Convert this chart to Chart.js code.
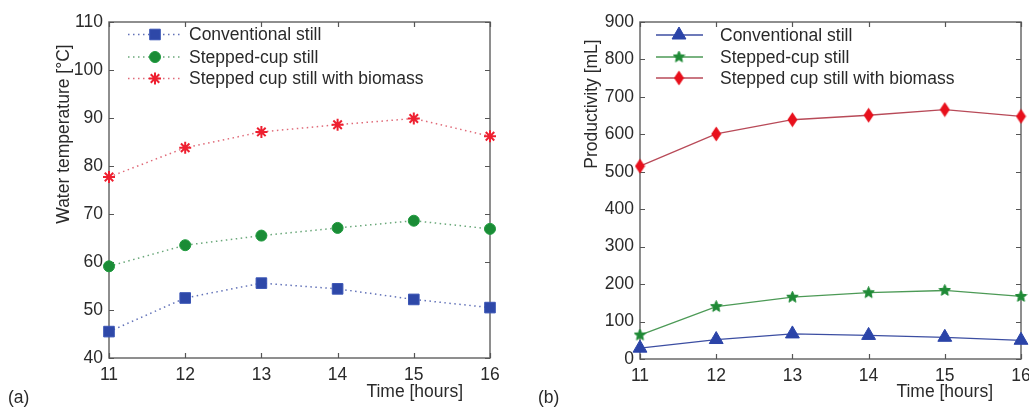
<!DOCTYPE html>
<html>
<head>
<meta charset="utf-8">
<script src="https://cdn.jsdelivr.net/npm/chart.js@4/dist/chart.umd.min.js"></script>
<style>
html,body{margin:0;padding:0;background:#fff;overflow:hidden;}
#wrap{position:relative;width:1029px;height:407px;overflow:hidden;background:#fff;}
canvas{position:absolute;top:0;}
</style>
</head>
<body>
<div id="wrap">
<canvas id="c1" width="515" height="407" style="left:0px"></canvas>
<canvas id="c2" width="530" height="407" style="left:515px"></canvas>
</div>
<script>
// ---- data ----
const hours = [11, 12, 13, 14, 15, 16];
const seriesNames = ['Conventional still', 'Stepped-cup still', 'Stepped cup still with biomass'];
const tempConventional = [45.5, 52.5, 55.6, 54.4, 52.2, 50.5];
const tempStepped = [59.1, 63.5, 65.5, 67.1, 68.6, 66.9];
const tempBiomass = [77.7, 83.8, 87.1, 88.6, 89.9, 86.2];
const prodConventional = [29, 52, 67, 63, 58, 50];
const prodStepped = [64, 140, 165, 177, 183, 167];
const prodBiomass = [515, 601, 639, 651, 666, 648];
const xTitle = 'Time [hours]';
const yTitleA = 'Water temperature [°C]';
const yTitleB = 'Productivity [mL]';

const FONT = '"Liberation Sans", Arial, sans-serif';
const TXT = '#2a2a2a';

function pts(vals){ return hours.map((h,i)=>({x:h, y:vals[i]})); }

function makeStar(size, color){
  const c = document.createElement('canvas');
  c.width = size; c.height = size;
  const g = c.getContext('2d');
  const cx = size/2, cy = size/2, R = size/2 - 0.5, r = R*0.45;
  g.beginPath();
  for(let k=0;k<10;k++){
    const a = -Math.PI/2 + k*Math.PI/5;
    const rr = k%2===0 ? R : r;
    const px = cx + rr*Math.cos(a), py = cy + rr*Math.sin(a);
    if(k===0) g.moveTo(px,py); else g.lineTo(px,py);
  }
  g.closePath();
  g.fillStyle = color; g.fill();
  g.strokeStyle = color; g.lineWidth = 1; g.stroke();
  return c;
}
function makeDiamond(w, h, color){
  const c = document.createElement('canvas');
  c.width = w; c.height = h;
  const g = c.getContext('2d');
  g.beginPath();
  g.moveTo(w/2, 0.5); g.lineTo(w-0.5, h/2); g.lineTo(w/2, h-0.5); g.lineTo(0.5, h/2);
  g.closePath();
  g.fillStyle = color; g.fill();
  return c;
}

const framePlugin = {
  id: 'frame',
  beforeDatasetsDraw(chart){
    const {ctx, chartArea:a} = chart;
    const x = chart.scales.x, y = chart.scales.y;
    ctx.save();
    ctx.strokeStyle = '#6a6a6a';
    ctx.lineWidth = 1.5;
    ctx.strokeRect(a.left, a.top, a.right - a.left, a.bottom - a.top);
    ctx.lineWidth = 1.2;
    ctx.strokeStyle = '#555';
    ctx.beginPath();
    x.ticks.forEach(t=>{
      const px = Math.round(x.getPixelForValue(t.value)) + 0.5;
      ctx.moveTo(px, a.bottom); ctx.lineTo(px, a.bottom - 5);
      ctx.moveTo(px, a.top); ctx.lineTo(px, a.top + 5);
    });
    y.ticks.forEach(t=>{
      const py = Math.round(y.getPixelForValue(t.value)) + 0.5;
      ctx.moveTo(a.left, py); ctx.lineTo(a.left + 5, py);
      ctx.moveTo(a.right, py); ctx.lineTo(a.right - 5, py);
    });
    ctx.stroke();
    ctx.restore();
  }
};

const annotatePlugin = {
  id: 'annot',
  afterDatasetsDraw(chart, args, opts){
    const ctx = chart.ctx;
    ctx.save();
    // legend
    const L = opts.legend;
    chart.data.datasets.forEach((ds, i)=>{
      const yy = L.rows[i];
      ctx.save();
      ctx.strokeStyle = ds.borderColor;
      ctx.lineWidth = ds.borderWidth;
      ctx.setLineDash(ds.borderDash || []);
      ctx.beginPath();
      ctx.moveTo(L.x0, yy); ctx.lineTo(L.x1, yy);
      ctx.stroke();
      ctx.restore();
      ctx.save();
      ctx.fillStyle = ds.pointBackgroundColor;
      ctx.strokeStyle = ds.pointBorderColor;
      ctx.lineWidth = ds.pointBorderWidth;
      Chart.helpers.drawPoint(ctx, {
        pointStyle: ds.pointStyle,
        radius: ds.pointRadius,
        rotation: 0,
        borderWidth: ds.pointBorderWidth
      }, L.xm, yy);
      ctx.restore();
      ctx.fillStyle = TXT;
      ctx.font = '17.5px ' + FONT;
      ctx.textBaseline = 'middle';
      ctx.textAlign = 'left';
      ctx.fillText(ds.label, L.xt, yy + 1);
    });
    // titles
    ctx.fillStyle = TXT;
    ctx.font = '17.5px ' + FONT;
    ctx.textBaseline = 'middle';
    ctx.textAlign = 'right';
    ctx.fillText(opts.xTitle, opts.xTitleX, opts.xTitleY);
    ctx.textAlign = 'left';
    ctx.fillText(opts.panel, opts.panelX, opts.panelY);
    ctx.save();
    ctx.translate(opts.yTitleX, opts.yTitleY);
    ctx.rotate(-Math.PI/2);
    ctx.textAlign = 'center';
    ctx.fillText(opts.yTitle, 0, 0);
    ctx.restore();
    ctx.restore();
  }
};

function baseOptions(cfg){
  return {
    responsive: false,
    animation: false,
    events: [],
    layout: { padding: { left: 0, right: cfg.padRight, top: 22, bottom: 0 } },
    plugins: {
      legend: { display: false },
      tooltip: { enabled: false },
      annot: cfg.annot
    },
    scales: {
      x: {
        type: 'linear', min: 11, max: 16,
        grid: { display: false, drawTicks: false },
        border: { display: false },
        ticks: { stepSize: 1, padding: 7, color: TXT, font: { family: FONT, size: 17.5 } },
        afterFit(a){ a.height = cfg.xHeight; }
      },
      y: {
        min: cfg.yMin, max: cfg.yMax,
        grid: { display: false, drawTicks: false },
        border: { display: false },
        ticks: { stepSize: cfg.yStep, padding: 6, color: TXT, font: { family: FONT, size: 17.5 } },
        afterFit(a){ a.width = cfg.yWidth; }
      }
    }
  };
}

// ---- chart (a) ----
const dsA = [
  { label: seriesNames[0], data: pts(tempConventional), borderColor: '#6272b8', borderWidth: 1.5, borderDash: [1.5, 3.5],
    pointStyle: 'rect', pointRadius: 7.5, pointBackgroundColor: '#2e48a8', pointBorderColor: '#3a55b5', pointBorderWidth: 1 },
  { label: seriesNames[1], data: pts(tempStepped), borderColor: '#6aa87a', borderWidth: 1.5, borderDash: [1.5, 3.5],
    pointStyle: 'circle', pointRadius: 5.5, pointBackgroundColor: '#1a8c36', pointBorderColor: '#1f9a3e', pointBorderWidth: 1 },
  { label: seriesNames[2], data: pts(tempBiomass), borderColor: '#e06a78', borderWidth: 1.5, borderDash: [1.5, 3.5],
    pointStyle: 'star', pointRadius: 6, pointBackgroundColor: '#ee2030', pointBorderColor: '#ee2030', pointBorderWidth: 2 }
].map(d=>Object.assign({ tension: 0, clip: false, fill: false, showLine: true }, d));

new Chart(document.getElementById('c1'), {
  type: 'line',
  data: { datasets: dsA },
  options: baseOptions({
    padRight: 25, xHeight: 49, yWidth: 109, yMin: 40, yMax: 110, yStep: 10,
    annot: {
      legend: { x0: 128, x1: 183, xm: 155, xt: 189, rows: [34.5, 57, 78.5] },
      xTitle: xTitle, xTitleX: 463, xTitleY: 392,
      panel: '(a)', panelX: 8, panelY: 398,
      yTitle: yTitleA, yTitleX: 64, yTitleY: 134
    }
  }),
  plugins: [framePlugin, annotatePlugin]
});

// ---- chart (b) ----
const starImg = makeStar(13, '#1f8a36');
const diamondImg = makeDiamond(11, 16, '#e8101c');
const dsB = [
  { label: seriesNames[0], data: pts(prodConventional), borderColor: '#3c4ea2', borderWidth: 1.3,
    pointStyle: 'triangle', pointRadius: 8, pointBackgroundColor: '#2b44a8', pointBorderColor: '#2b44a8', pointBorderWidth: 1 },
  { label: seriesNames[1], data: pts(prodStepped), borderColor: '#4c9a56', borderWidth: 1.3,
    pointStyle: starImg, pointRadius: 6, pointBackgroundColor: '#1f8a36', pointBorderColor: '#1f8a36', pointBorderWidth: 1 },
  { label: seriesNames[2], data: pts(prodBiomass), borderColor: '#b84a58', borderWidth: 1.3,
    pointStyle: diamondImg, pointRadius: 7, pointBackgroundColor: '#e8101c', pointBorderColor: '#e8101c', pointBorderWidth: 1 }
].map(d=>Object.assign({ tension: 0, clip: false, fill: false, showLine: true }, d));

new Chart(document.getElementById('c2'), {
  type: 'line',
  data: { datasets: dsB },
  options: baseOptions({
    padRight: 24, xHeight: 48, yWidth: 125, yMin: 0, yMax: 900, yStep: 100,
    annot: {
      legend: { x0: 141, x1: 188, xm: 164, xt: 205, rows: [35, 57, 78] },
      xTitle: xTitle, xTitleX: 478, xTitleY: 392,
      panel: '(b)', panelX: 23, panelY: 398,
      yTitle: yTitleB, yTitleX: 77, yTitleY: 104
    }
  }),
  plugins: [framePlugin, annotatePlugin]
});
</script>
</body>
</html>
